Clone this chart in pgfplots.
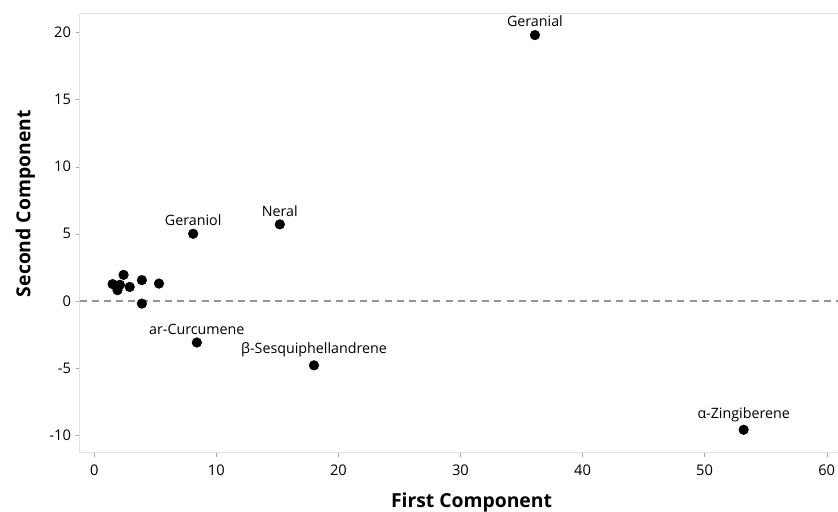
\documentclass[border=0pt]{standalone}
\usepackage{pgfplots}
\pgfplotsset{compat=1.18}
\usepackage{fontspec}
\setmainfont{Open Sans}
\begin{document}
\begin{tikzpicture}[x=1pt,y=1pt]
\path[use as bounding box] (0,0) rectangle (628.5,383.25);
\begin{axis}[
  at={(65.25,43.5)}, anchor=south west,
  scale only axis, width=568.5pt, height=329.25pt,
  xmin=-1.2, xmax=60.9, ymin=-11.3, ymax=21.4,
  xtick={0,10,...,60}, ytick={-10,-5,...,20},
  axis line style={draw=black!12},
  axis x line*=bottom, axis y line*=left,
  tick align=outside, major tick length=3pt,
  tick style={draw=black!35},
  tick label style={font=\fontsize{11}{12}\selectfont},
  xticklabel style={yshift=-3pt},
  /pgf/number format/assume math mode=true,
  xlabel={\textbf{First Component}}, ylabel={\textbf{Second Component}},
  label style={font=\fontsize{14.5}{16}\selectfont},
  xlabel style={at={(ticklabel cs:0.517)}, anchor=north, yshift=-6pt},
  ylabel style={at={(ticklabel cs:0.567)}, anchor=south, yshift=4pt},
  clip=false,
]
\draw[black!12] (axis cs:-1.2,21.4) -- (axis cs:60.9,21.4);
\draw[black!42, dash pattern=on 5.25pt off 3.9pt, line width=1.1pt] (axis cs:-1.2,0) -- (axis cs:60.9,0);
\addplot[only marks, mark=*, mark size=3.6pt, black,
  nodes near coords, point meta=explicit symbolic,
  every node near coord/.style={font=\fontsize{10.7}{12}\selectfont, anchor=south, yshift=2.5pt}]
  table[meta=label, row sep=\\] {
  x y label\\
  36.1 19.8 Geranial\\
  15.2 5.7 Neral\\
  8.1 5.0 Geraniol\\
  8.4 -3.1 ar-Curcumene\\
  18.0 -4.8 β-Sesquiphellandrene\\
  53.2 -9.6 α-Zingiberene\\
};
\addplot[only marks, mark=*, mark size=3.6pt, black] coordinates {
  (2.4,1.94) (1.5,1.25) (1.9,0.8) (2.9,1.04) (2.1,1.2) (3.9,1.55) (5.3,1.29) (3.9,-0.2)
};
\end{axis}
\end{tikzpicture}
\end{document}
